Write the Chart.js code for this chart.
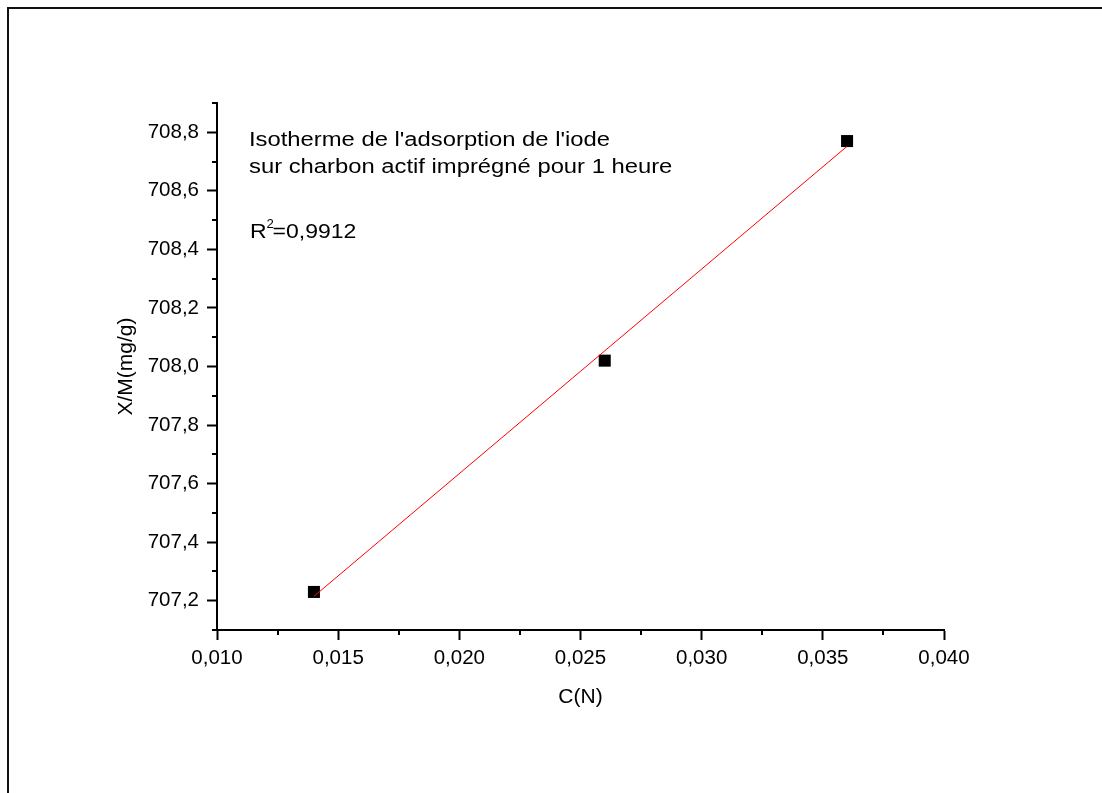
<!DOCTYPE html>
<html>
<head>
<meta charset="utf-8">
<script src="https://cdn.jsdelivr.net/npm/chart.js@4.4.1/dist/chart.umd.min.js"></script>
<style>
html,body{margin:0;padding:0;background:#fff;}
canvas{display:block;}
</style>
</head>
<body>
<canvas id="c" width="1102" height="793"></canvas>
<script>
// values
var concentration = [0.014, 0.026, 0.036];
var adsorbed = [707.23, 708.02, 708.77];
var fitX = [0.014, 0.036];
var fitY = [707.215, 708.752];
var xTicks = [0.010, 0.015, 0.020, 0.025, 0.030, 0.035, 0.040];
var xMinor = [0.0125, 0.0175, 0.0225, 0.0275, 0.0325, 0.0375];
var yTicks = [707.2, 707.4, 707.6, 707.8, 708.0, 708.2, 708.4, 708.6, 708.8];
var yMinor = [707.1, 707.3, 707.5, 707.7, 707.9, 708.1, 708.3, 708.5, 708.7, 708.9];
var noteLines = ["Isotherme de l'adsorption de l'iode", "sur charbon actif imprégné pour 1 heure"];
var r2Text = '=0,9912';

var FONT = "'Liberation Sans', Arial, sans-serif";

function pts(xs, ys){
  var out = [];
  for(var i=0;i<xs.length;i++) out.push({x: xs[i], y: ys[i]});
  return out;
}

// text in the original is a bit wider than plain Arial, so stretch it
function wideText(ctx, txt, x, y, sx){
  ctx.save();
  ctx.translate(x, y);
  ctx.scale(sx, 1);
  ctx.fillText(txt, 0, 0);
  var w = ctx.measureText(txt).width * sx;
  ctx.restore();
  return w;
}

var extras = {
  id: 'extras',
  beforeDraw: function(chart){
    var ctx = chart.ctx;
    ctx.save();
    ctx.fillStyle = '#fff';
    ctx.fillRect(0, 0, chart.width, chart.height);
    // frame (only top and left edges show)
    ctx.strokeStyle = '#111';
    ctx.lineWidth = 2;
    ctx.beginPath();
    ctx.moveTo(chart.width, 8);
    ctx.lineTo(8, 8);
    ctx.lineTo(8, chart.height);
    ctx.stroke();
    ctx.restore();
  },
  afterDraw: function(chart){
    var ctx = chart.ctx;
    var xs = chart.scales.x, ys = chart.scales.y;
    ctx.save();
    ctx.strokeStyle = '#000';
    ctx.lineWidth = 2;
    ctx.beginPath();
    xMinor.forEach(function(v){
      var px = Math.round(xs.getPixelForValue(v));
      ctx.moveTo(px, ys.bottom);
      ctx.lineTo(px, ys.bottom + 5);
    });
    yMinor.forEach(function(v){
      var py = Math.round(ys.getPixelForValue(v));
      ctx.moveTo(xs.left, py);
      ctx.lineTo(xs.left - 5, py);
    });
    ctx.stroke();

    ctx.fillStyle = '#000';
    ctx.textBaseline = 'alphabetic';
    ctx.textAlign = 'left';
    ctx.font = '20px ' + FONT;
    wideText(ctx, noteLines[0], 249, 146, 1.19);
    wideText(ctx, noteLines[1], 249, 173, 1.19);
    var rw = wideText(ctx, 'R', 250, 238, 1.15);
    ctx.font = '12px ' + FONT;
    wideText(ctx, '2', 250 + rw, 228, 1.1);
    ctx.font = '20px ' + FONT;
    wideText(ctx, r2Text, 250 + rw + 6, 238, 1.15);
    ctx.restore();
  }
};

new Chart(document.getElementById('c'), {
  type: 'scatter',
  data: {
    datasets: [
      {
        data: pts(fitX, fitY),
        showLine: true,
        borderColor: '#ff0000',
        borderWidth: 1,
        pointRadius: 0,
        fill: false
      },
      {
        data: pts(concentration, adsorbed),
        showLine: false,
        pointStyle: 'rect',
        pointRadius: 8.5,
        backgroundColor: '#000',
        borderColor: '#000',
        borderWidth: 0
      }
    ]
  },
  options: {
    responsive: false,
    animation: false,
    events: [],
    layout: { padding: { left: 110, top: 103, right: 158, bottom: 79 } },
    plugins: { legend: { display: false }, tooltip: { enabled: false } },
    scales: {
      x: {
        type: 'linear',
        min: 0.010,
        max: 0.040,
        afterBuildTicks: function(s){ s.ticks = xTicks.map(function(v){ return {value: v}; }); },
        afterFit: function(s){ s.height = 84; },
        grid: { drawOnChartArea: false, drawTicks: true, tickLength: 10, tickWidth: 2, tickColor: '#000' },
        border: { display: true, width: 2, color: '#000' },
        ticks: {
          color: '#000',
          padding: 6,
          maxRotation: 0,
          autoSkip: false,
          font: { family: FONT, size: 20.5 },
          callback: function(v){ return Number(v).toFixed(3).replace('.', ','); }
        },
        title: { display: true, text: 'C(N)', color: '#000', font: { family: FONT, size: 21 } }
      },
      y: {
        type: 'linear',
        min: 707.1,
        max: 708.9,
        afterBuildTicks: function(s){ s.ticks = yTicks.map(function(v){ return {value: v}; }); },
        afterFit: function(s){ s.width = 107; },
        grid: { drawOnChartArea: false, drawTicks: true, tickLength: 10, tickWidth: 2, tickColor: '#000' },
        border: { display: true, width: 2, color: '#000' },
        ticks: {
          color: '#000',
          padding: 8,
          autoSkip: false,
          font: { family: FONT, size: 20.5 },
          callback: function(v){ return Number(v).toFixed(1).replace('.', ','); }
        },
        title: { display: true, text: 'X/M(mg/g)', color: '#000', font: { family: FONT, size: 21 } }
      }
    }
  },
  plugins: [extras]
});
</script>
</body>
</html>
